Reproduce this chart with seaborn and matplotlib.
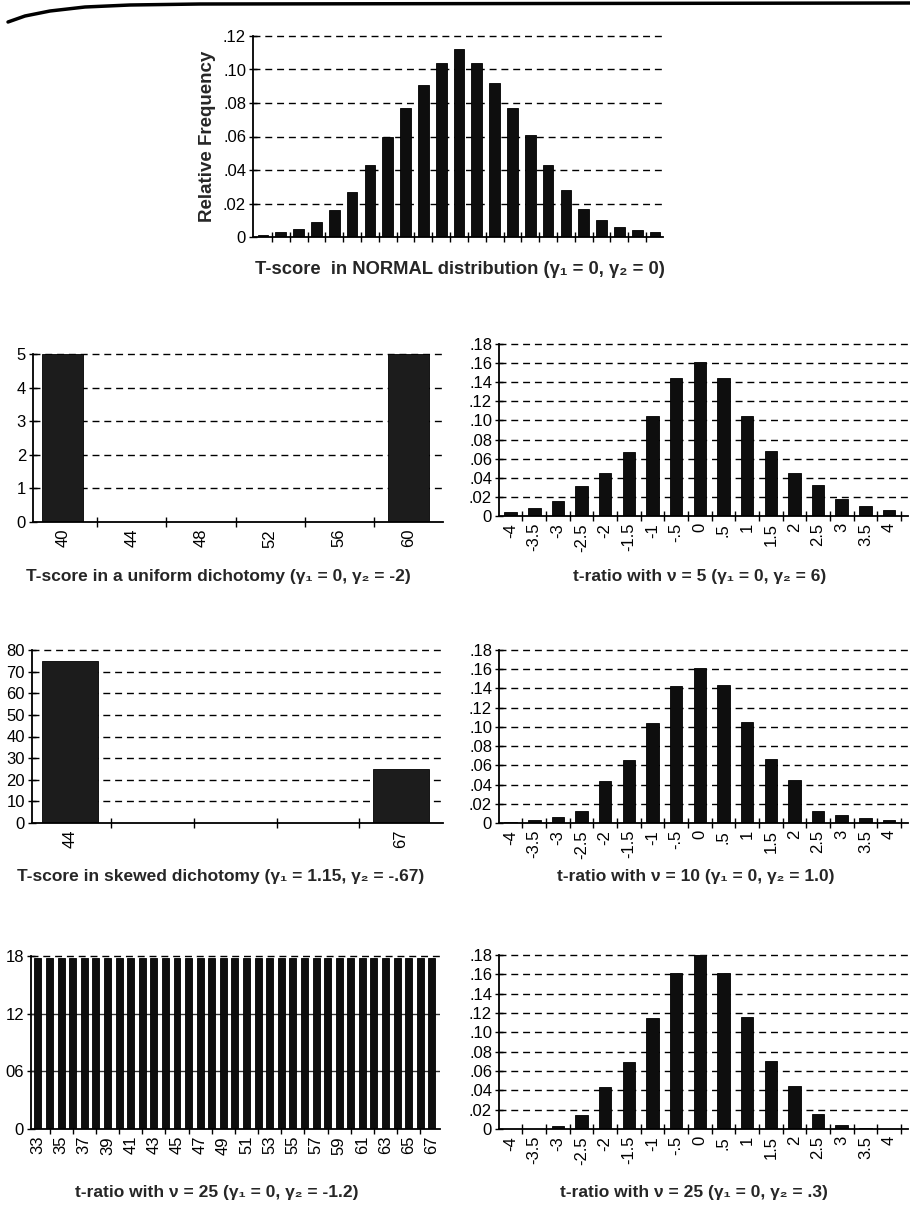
import numpy as np
import matplotlib.pyplot as plt
import seaborn as sns
from matplotlib.lines import Line2D

sns.set_style("white")
plt.rcParams["font.family"] = ["Liberation Sans", "DejaVu Sans"]

W, H = 910, 1220

# ---- values ----
normal_freq = [0.0014, 0.003, 0.005, 0.009, 0.016, 0.027, 0.043, 0.060, 0.077, 0.091,
               0.104, 0.112, 0.104, 0.092, 0.077, 0.061, 0.043, 0.028, 0.017, 0.010,
               0.006, 0.004, 0.003]

t_labels = ["-4", "-3.5", "-3", "-2.5", "-2", "-1.5", "-1", "-.5", "0",
            ".5", "1", "1.5", "2", "2.5", "3", "3.5", "4"]
t5_freq = [0.004, 0.008, 0.016, 0.031, 0.045, 0.067, 0.105, 0.144, 0.161,
           0.144, 0.105, 0.068, 0.045, 0.032, 0.018, 0.010, 0.006]
t10_freq = [0.001, 0.003, 0.006, 0.012, 0.044, 0.066, 0.104, 0.143, 0.161,
            0.144, 0.105, 0.067, 0.045, 0.013, 0.008, 0.005, 0.003]
t25_freq = [0.0004, 0.0004, 0.003, 0.015, 0.043, 0.069, 0.115, 0.161, 0.181,
            0.161, 0.116, 0.070, 0.045, 0.016, 0.004, 0.001, 0.0005]

uniform_labels = ["40", "44", "48", "52", "56", "60"]
uniform_freq = [0.5, 0, 0, 0, 0, 0.5]

skewed_labels = ["44", "", "", "", "67"]
skewed_freq = [0.75, 0, 0, 0, 0.25]

flat_scores = list(range(33, 68))
flat_freq = [0.0178, 0.0178, 0.0178, 0.0178, 0.0178, 0.0178, 0.0178, 0.0178, 0.0178,
             0.0178, 0.0178, 0.0178, 0.0178, 0.0178, 0.0178, 0.0178, 0.0178, 0.0178,
             0.0178, 0.0178, 0.0178, 0.0178, 0.0178, 0.0178, 0.0178, 0.0178, 0.0178,
             0.0178, 0.0178, 0.0178, 0.0178, 0.0178, 0.0178, 0.0178, 0.0178]

t_yticks = [0, 0.02, 0.04, 0.06, 0.08, 0.10, 0.12, 0.14, 0.16, 0.18]
t_yticklabels = ["0", ".02", ".04", ".06", ".08", ".10", ".12", ".14", ".16", ".18"]
normal_yticks = [0, 0.02, 0.04, 0.06, 0.08, 0.10, 0.12]
normal_yticklabels = ["0", ".02", ".04", ".06", ".08", ".10", ".12"]
uniform_yticks = [0, 0.1, 0.2, 0.3, 0.4, 0.5]
uniform_yticklabels = ["0", "1", "2", "3", "4", "5"]      # dots lost at the scan edge
skewed_yticks = [0, 0.1, 0.2, 0.3, 0.4, 0.5, 0.6, 0.7, 0.8]
skewed_yticklabels = ["0", "10", "20", "30", "40", "50", "60", "70", "80"]
flat_yticks = [0, 0.006, 0.012, 0.018]
flat_yticklabels = ["0", "06", "12", "18"]

DASH = (0, (5, 3.5))

fig = plt.figure(figsize=(W / 100, H / 100), dpi=100)


def px_rect(left, top, right, bottom):
    return [left / W, 1 - bottom / H, (right - left) / W, (bottom - top) / H]


def bar_panel(rect, values, width, xlim, ylim, yticks, yticklabels,
              xlabels=None, xlabel_pos=None, xmarks=None, color="#0e0e0e",
              grid_solid=()):
    ax = fig.add_axes(rect)
    n = len(values)
    sns.barplot(x=list(range(n)), y=values, color=color, width=width,
                saturation=1, errorbar=None, edgecolor="black", linewidth=0.6,
                ax=ax, zorder=3)
    for yv in yticks[1:]:
        if yv in grid_solid:
            ax.axhline(yv, color="#333333", lw=1.0, zorder=1)
        else:
            ax.axhline(yv, color="black", lw=1.0, ls=DASH, zorder=1, clip_on=False)
    for s in ["top", "right"]:
        ax.spines[s].set_visible(False)
    for s in ["left", "bottom"]:
        ax.spines[s].set_color("black")
        ax.spines[s].set_linewidth(1.3)
        ax.spines[s].set_zorder(4)
    ax.set_xlim(xlim)
    ax.set_ylim(ylim)
    ax.set_yticks(yticks, yticklabels)
    ax.tick_params(axis="y", left=True, direction="inout", length=6, width=1,
                   labelsize=12, pad=2, colors="black")
    if xlabels is not None:
        ax.set_xticks(xlabel_pos, xlabels, rotation=90)
    else:
        ax.set_xticks([])
    ax.tick_params(axis="x", which="major", bottom=True, length=0, labelsize=12,
                   pad=5, colors="black")
    if xmarks is not None:
        ax.set_xticks(xmarks, minor=True)
    ax.tick_params(axis="x", which="minor", bottom=True, direction="inout",
                   length=7, width=1, colors="black")
    ax.set_xlabel("")
    ax.set_ylabel("")
    return ax


# top: normal distribution
ax = bar_panel(px_rect(253, 36, 663, 237), normal_freq, 0.6, (-0.56, 22.45),
               (0, 0.12), normal_yticks, normal_yticklabels,
               xmarks=[i + 0.5 for i in range(len(normal_freq) - 1)])
ax.set_ylabel("Relative Frequency", fontsize=13.5, fontweight="bold", labelpad=5)

# row 2
bar_panel(px_rect(33, 354, 443, 522), uniform_freq, 0.6, (-0.43, 5.5),
          (0, 0.5), uniform_yticks, uniform_yticklabels,
          xlabels=uniform_labels, xlabel_pos=list(range(len(uniform_labels))),
          xmarks=[i + 0.5 for i in range(len(uniform_labels) - 1)], color="#1c1c1c")
bar_panel(px_rect(499, 344, 908, 516), t5_freq, 0.53, (-0.49, 16.8),
          (0, 0.18), t_yticks, t_yticklabels,
          xlabels=t_labels, xlabel_pos=list(range(len(t_labels))),
          xmarks=[i + 0.5 for i in range(len(t_labels))])

# row 3
bar_panel(px_rect(32, 650, 443, 823), skewed_freq, 0.68, (-0.46, 4.51),
          (0, 0.8), skewed_yticks, skewed_yticklabels,
          xlabels=skewed_labels, xlabel_pos=list(range(len(skewed_labels))),
          xmarks=[i + 0.5 for i in range(len(skewed_labels) - 1)], color="#1c1c1c")
bar_panel(px_rect(499, 650, 908, 823), t10_freq, 0.53, (-0.49, 16.8),
          (0, 0.18), t_yticks, t_yticklabels,
          xlabels=t_labels, xlabel_pos=list(range(len(t_labels))),
          xmarks=[i + 0.5 for i in range(len(t_labels))])

# row 4
flat_label_pos = list(range(0, len(flat_scores), 2))
bar_panel(px_rect(31, 956, 440, 1129), flat_freq, 0.6, (-0.6, 34.7),
          (0, 0.018), flat_yticks, flat_yticklabels,
          xlabels=[str(flat_scores[i]) for i in flat_label_pos], xlabel_pos=flat_label_pos,
          xmarks=[i + 1 for i in flat_label_pos[:-1]], grid_solid=(0.006, 0.012))
bar_panel(px_rect(499, 955, 908, 1129), t25_freq, 0.53, (-0.49, 16.8),
          (0, 0.18), t_yticks, t_yticklabels,
          xlabels=t_labels, xlabel_pos=list(range(len(t_labels))),
          xmarks=[i + 0.5 for i in range(len(t_labels))])

# captions under each panel
captions = [
    (460, 270, 13.2, "T-score  in NORMAL distribution (\u03b3\u2081 = 0, \u03b3\u2082 = 0)"),
    (218, 577, 12.5, "T-score in a uniform dichotomy (\u03b3\u2081 = 0, \u03b3\u2082 = -2)"),
    (700, 577, 12.5, "t-ratio with \u03bd = 5 (\u03b3\u2081 = 0, \u03b3\u2082 = 6)"),
    (221, 877, 12.5, "T-score in skewed dichotomy (\u03b3\u2081 = 1.15, \u03b3\u2082 = -.67)"),
    (696, 877, 12.5, "t-ratio with \u03bd = 10 (\u03b3\u2081 = 0, \u03b3\u2082 = 1.0)"),
    (217, 1193, 12.5, "t-ratio with \u03bd = 25 (\u03b3\u2081 = 0, \u03b3\u2082 = -1.2)"),
    (694, 1193, 12.5, "t-ratio with \u03bd = 25 (\u03b3\u2081 = 0, \u03b3\u2082 = .3)"),
]
for cx, cy, fs, txt in captions:
    fig.text(cx / W, 1 - cy / H, txt, ha="center", va="center",
             fontsize=fs, fontweight="bold")

# page edge rule at the top of the scan
curve_x = [8, 25, 50, 85, 130, 200, 910]
curve_y = [22, 16, 11, 7, 5, 4, 3]
fig.add_artist(Line2D([x / W for x in curve_x], [1 - y / H for y in curve_y],
                      color="black", lw=2.5, transform=fig.transFigure))

fig.savefig("out.png", dpi=100)
